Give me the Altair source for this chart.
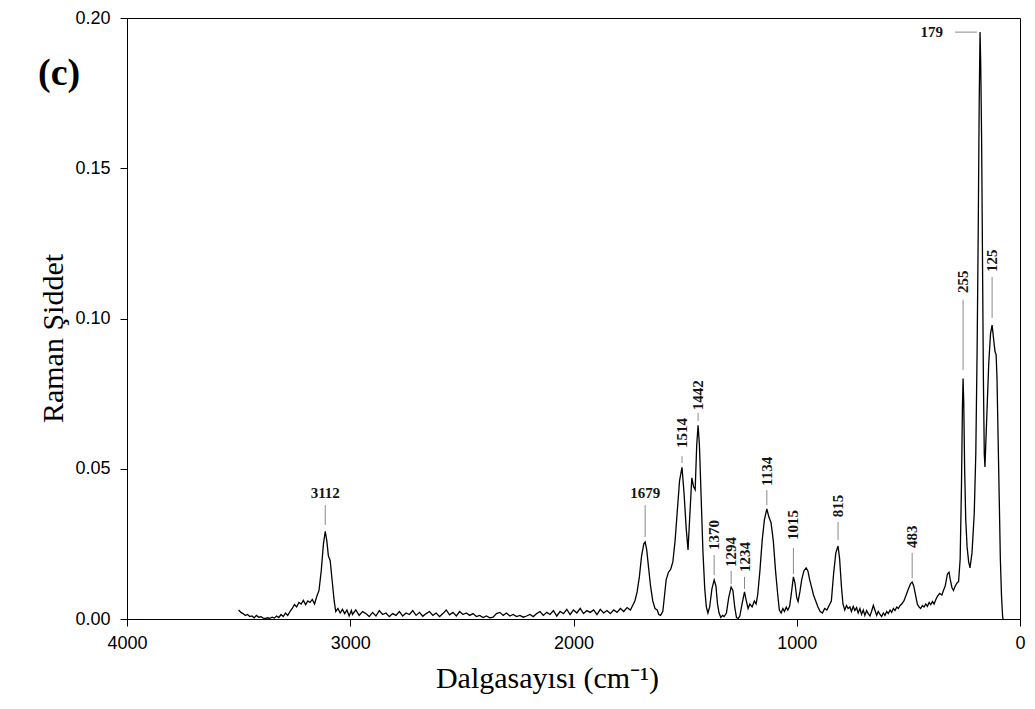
import altair as alt
import pandas as pd

# ---- spectrum (wavenumber cm-1, Raman intensity) ----
wavenumber = [
    3500, 3490, 3480, 3470, 3460, 3450, 3440, 3430, 3420, 3410, 3400, 3390, 3380, 3370, 3360,
    3350, 3340, 3330, 3320, 3310, 3300, 3290, 3280, 3270, 3260, 3250, 3240, 3230, 3220, 3210,
    3200, 3190, 3180, 3170, 3160, 3150, 3140, 3130, 3120, 3112, 3105, 3098, 3090, 3080, 3072,
    3065, 3055, 3045, 3035, 3025, 3015, 3005, 2995,
    2990, 2975, 2960, 2945, 2930, 2915, 2900, 2885, 2870, 2855, 2840, 2825, 2810, 2795, 2780,
    2765, 2750, 2735, 2720, 2705, 2690, 2675, 2660, 2645, 2630, 2615, 2600, 2585, 2570, 2555,
    2540, 2525, 2510, 2495, 2480, 2465, 2450, 2435, 2420, 2405, 2390, 2375, 2360, 2345, 2330,
    2315, 2300, 2285, 2270, 2255, 2240, 2225, 2210, 2195, 2180, 2165, 2150, 2135, 2120, 2105,
    2090, 2075, 2060, 2045, 2030, 2015, 2000, 1985, 1970, 1955, 1940, 1925, 1910, 1895, 1880,
    1865, 1850, 1835, 1820, 1805, 1790, 1775, 1760, 1745, 1735, 1725, 1715, 1705, 1695, 1685,
    1679, 1672, 1665, 1655, 1645, 1635, 1625, 1618, 1610, 1600, 1592, 1585, 1575, 1565, 1555,
    1545, 1535, 1525, 1514, 1505, 1495, 1487, 1480, 1470, 1462, 1455, 1448, 1442, 1436, 1428,
    1420, 1412, 1405, 1398, 1390, 1380, 1370, 1362, 1355, 1348, 1340, 1332, 1325, 1315, 1305,
    1294, 1286, 1278, 1270, 1262, 1255, 1245, 1234, 1226, 1218, 1210, 1200, 1190, 1182, 1175,
    1165, 1155, 1145, 1134, 1125, 1115, 1105, 1095, 1085, 1078, 1070, 1062, 1055, 1047, 1040,
    1032, 1025, 1015, 1008, 1000, 994, 986, 978, 968, 958, 950, 942, 935, 925, 915,
    905, 895, 885, 875, 865, 855, 845, 835, 825, 815, 808, 800, 793, 785, 777,
    770, 762, 755, 747, 740, 732, 725, 717, 710, 702, 695, 687, 680, 672, 665,
    657, 650, 642, 635, 627, 620, 612, 605, 597, 590, 582, 575, 567, 560, 552,
    545, 537, 530, 520, 510, 500, 490, 483, 476, 468, 460, 452, 445, 437, 430,
    422, 415, 407, 400, 392, 385, 377, 370, 360, 350, 343, 335, 325, 318, 312,
    305, 298, 290, 282, 275, 268, 262, 258, 255, 252, 248, 243, 237, 230, 224,
    215, 205, 198, 192, 187, 183, 179, 176, 172, 168, 164, 160, 157, 150, 140,
    132, 125, 118, 112, 107, 103, 98, 93, 88, 83, 78, 76,
]
intensity = [
    0.0030, 0.0022, 0.0018, 0.0012, 0.0015, 0.0008, 0.0010, 0.0004, 0.0012, 0.0006, 0.0008, 0.0003, 0.0002, 0.0004, 0.0002,
    0.0006, 0.0003, 0.0010, 0.0005, 0.0015, 0.0008, 0.0020, 0.0012, 0.0025, 0.0035, 0.0048, 0.0040, 0.0055, 0.0050, 0.0062,
    0.0048, 0.0060, 0.0055, 0.0065, 0.0050, 0.0075, 0.0095, 0.0160, 0.0250, 0.0292, 0.0260, 0.0210, 0.0195, 0.0120, 0.0060,
    0.0025, 0.0035, 0.0020, 0.0032, 0.0018, 0.0030, 0.0010, 0.0028,
    0.0015, 0.0030, 0.0012, 0.0025, 0.0018, 0.0008, 0.0022, 0.0010, 0.0028, 0.0015, 0.0020, 0.0008, 0.0018, 0.0012, 0.0025,
    0.0010, 0.0020, 0.0015, 0.0028, 0.0012, 0.0022, 0.0009, 0.0018, 0.0025, 0.0012, 0.0020, 0.0008, 0.0018, 0.0030, 0.0014,
    0.0022, 0.0010, 0.0025, 0.0015, 0.0020, 0.0012, 0.0018, 0.0008, 0.0012, 0.0005, 0.0010, 0.0004, 0.0006, 0.0018, 0.0022,
    0.0012, 0.0020, 0.0010, 0.0015, 0.0008, 0.0012, 0.0006, 0.0010, 0.0015, 0.0008, 0.0018, 0.0025, 0.0012, 0.0022, 0.0015,
    0.0028, 0.0010, 0.0025, 0.0018, 0.0032, 0.0015, 0.0030, 0.0020, 0.0035, 0.0018, 0.0028, 0.0022, 0.0030, 0.0015, 0.0032,
    0.0020, 0.0028, 0.0018, 0.0030, 0.0022, 0.0035, 0.0025, 0.0038, 0.0030, 0.0045, 0.0060, 0.0090, 0.0140, 0.0210, 0.0250,
    0.0256, 0.0230, 0.0180, 0.0110, 0.0060, 0.0035, 0.0030, 0.0015, 0.0012, 0.0025, 0.0080, 0.0130, 0.0155, 0.0165, 0.0190,
    0.0260, 0.0360, 0.0460, 0.0505, 0.0420, 0.0300, 0.0230, 0.0330, 0.0470, 0.0440, 0.0430, 0.0580, 0.0645, 0.0580, 0.0400,
    0.0220, 0.0100, 0.0040, 0.0020, 0.0040, 0.0100, 0.0130, 0.0110, 0.0050, 0.0020, 0.0005, 0.0012, 0.0008, 0.0020, 0.0070,
    0.0106, 0.0095, 0.0040, 0.0005, 0.0002, 0.0010, 0.0050, 0.0090, 0.0060, 0.0035, 0.0050, 0.0040, 0.0060, 0.0050, 0.0080,
    0.0160, 0.0260, 0.0330, 0.0366, 0.0340, 0.0320, 0.0260, 0.0160, 0.0080, 0.0030, 0.0020, 0.0035, 0.0025, 0.0040, 0.0030,
    0.0042, 0.0080, 0.0140, 0.0120, 0.0070, 0.0058, 0.0090, 0.0130, 0.0160, 0.0170, 0.0160, 0.0130, 0.0110, 0.0080, 0.0060,
    0.0040, 0.0025, 0.0020, 0.0035, 0.0030, 0.0045, 0.0060, 0.0150, 0.0220, 0.0243, 0.0200, 0.0110, 0.0050, 0.0030, 0.0045,
    0.0035, 0.0040, 0.0025, 0.0042, 0.0028, 0.0038, 0.0020, 0.0035, 0.0015, 0.0030, 0.0012, 0.0028, 0.0018, 0.0010, 0.0025,
    0.0045, 0.0030, 0.0012, 0.0025, 0.0015, 0.0008, 0.0020, 0.0012, 0.0025, 0.0018, 0.0030, 0.0022, 0.0035, 0.0028, 0.0040,
    0.0035, 0.0045, 0.0050, 0.0060, 0.0080, 0.0100, 0.0118, 0.0123, 0.0110, 0.0080, 0.0050, 0.0040, 0.0035, 0.0045, 0.0040,
    0.0050, 0.0042, 0.0055, 0.0048, 0.0058, 0.0050, 0.0065, 0.0075, 0.0085, 0.0080, 0.0095, 0.0110, 0.0150, 0.0156, 0.0130,
    0.0105, 0.0095, 0.0110, 0.0120, 0.0125, 0.0200, 0.0450, 0.0700, 0.0800, 0.0720, 0.0500, 0.0330, 0.0240, 0.0190, 0.0170,
    0.0220, 0.0350, 0.0550, 0.0900, 0.1300, 0.1700, 0.1953, 0.1850, 0.1600, 0.1200, 0.0800, 0.0550, 0.0506, 0.0650, 0.0850,
    0.0950, 0.0978, 0.0930, 0.0890, 0.0880, 0.0800, 0.0600, 0.0400, 0.0200, 0.0080, 0.0010, 0.0000,
]

# ---- peak annotations ----
vert_labels = ["1514", "1442", "1370", "1294", "1234", "1134", "1015", "815", "483", "255", "125"]
vert_x = [1514, 1442, 1370, 1294, 1234, 1134, 1015, 815, 483, 255, 125]
vert_text_y = [0.0569, 0.0695, 0.0230, 0.0173, 0.0156, 0.0443, 0.0263, 0.0339, 0.0236, 0.1085, 0.1155]
vert_line_y1 = [0.0542, 0.0686, 0.0213, 0.0160, 0.0140, 0.0429, 0.0236, 0.0323, 0.0220, 0.1062, 0.1138]
vert_line_y2 = [0.0519, 0.0659, 0.0146, 0.0116, 0.0100, 0.0379, 0.0150, 0.0263, 0.0136, 0.0829, 0.1002]

horiz_labels = ["3112", "1679"]
horiz_x = [3112, 1679]
horiz_text_y = [0.0403, 0.0403]
horiz_line_y1 = [0.0379, 0.0379]
horiz_line_y2 = [0.0313, 0.0273]

top_label = ["179"]
top_text_x = [345]
top_y = [0.1953]
top_line_x1 = [291]
top_line_x2 = [193]

panel_label = ["(c)"]

spec = pd.DataFrame({"w": wavenumber, "i": intensity})
vdf = pd.DataFrame({"t": vert_labels, "x": vert_x, "ty": vert_text_y, "y1": vert_line_y1, "y2": vert_line_y2})
hdf = pd.DataFrame({"t": horiz_labels, "x": horiz_x, "ty": horiz_text_y, "y1": horiz_line_y1, "y2": horiz_line_y2})
tdf = pd.DataFrame({"t": top_label, "x": top_text_x, "y": top_y, "x1": top_line_x1, "x2": top_line_x2})
pdf = pd.DataFrame({"t": panel_label})

xscale = alt.Scale(domain=[0, 4000], reverse=True, nice=False, zero=False)
yscale = alt.Scale(domain=[0, 0.2], nice=False)

SERIF = "Liberation Serif"
LBL = 15
LINE_C = "#8a8a8a"
TXT_C = "#151515"

line = alt.Chart(spec).mark_line(color="black", strokeWidth=1.3).encode(
    x=alt.X("w:Q", scale=xscale,
            axis=alt.Axis(title="Dalgasayısı (cm⁻¹)", values=[4000, 3000, 2000, 1000, 0], format="d",
                          labelFlush=False,
                          titleX=420, titleY=68, titleAlign="center", titleBaseline="alphabetic")),
    y=alt.Y("i:Q", scale=yscale,
            axis=alt.Axis(title="Raman Şiddet", values=[0, 0.05, 0.10, 0.15, 0.20], format=".2f",
                          labelFlush=False,
                          titleX=-65, titleY=320, titleAlign="center", titleBaseline="alphabetic",
                          titleAngle=270)),
)

vrule = alt.Chart(vdf).mark_rule(color=LINE_C, strokeWidth=1).encode(
    x="x:Q", y="y1:Q", y2="y2:Q")
vtext = alt.Chart(vdf).mark_text(angle=270, align="left", baseline="middle", font=SERIF,
                                 fontSize=LBL, fontWeight="bold", color=TXT_C).encode(
    x="x:Q", y="ty:Q", text="t:N")

hrule = alt.Chart(hdf).mark_rule(color=LINE_C, strokeWidth=1).encode(
    x="x:Q", y="y1:Q", y2="y2:Q")
htext = alt.Chart(hdf).mark_text(align="center", baseline="alphabetic", font=SERIF,
                                 fontSize=LBL, fontWeight="bold", color=TXT_C).encode(
    x="x:Q", y="ty:Q", text="t:N")

trule = alt.Chart(tdf).mark_rule(color=LINE_C, strokeWidth=1).encode(
    x="x1:Q", x2="x2:Q", y="y:Q")
ttext = alt.Chart(tdf).mark_text(align="right", baseline="middle", font=SERIF,
                                 fontSize=LBL, fontWeight="bold", color=TXT_C).encode(
    x="x:Q", y="y:Q", text="t:N")

ptext = alt.Chart(pdf).mark_text(align="left", baseline="alphabetic", font=SERIF,
                                 fontSize=38, fontWeight="bold", color="black").encode(
    x=alt.value(-89), y=alt.value(67), text="t:N")

chart = alt.layer(line, vrule, vtext, hrule, htext, trule, ttext, ptext).properties(
    width=893, height=601,
    autosize=alt.AutoSizeParams(type="none"),
    padding={"left": 119, "top": 10, "right": 7, "bottom": 76},
).configure_view(stroke="black", strokeWidth=1).configure_axis(
    grid=False, domainColor="black", domainWidth=1, tickColor="black", tickSize=7, tickWidth=1,
    labelFont="Liberation Sans", labelFontSize=18, labelColor="black",
    titleFont=SERIF, titleFontSize=30, titleFontWeight="normal", titleColor="black",
).configure_axisX(labelPadding=8).configure_axisY(labelPadding=10)

chart.save("out.html", embed_options={"renderer": "svg", "actions": False})
